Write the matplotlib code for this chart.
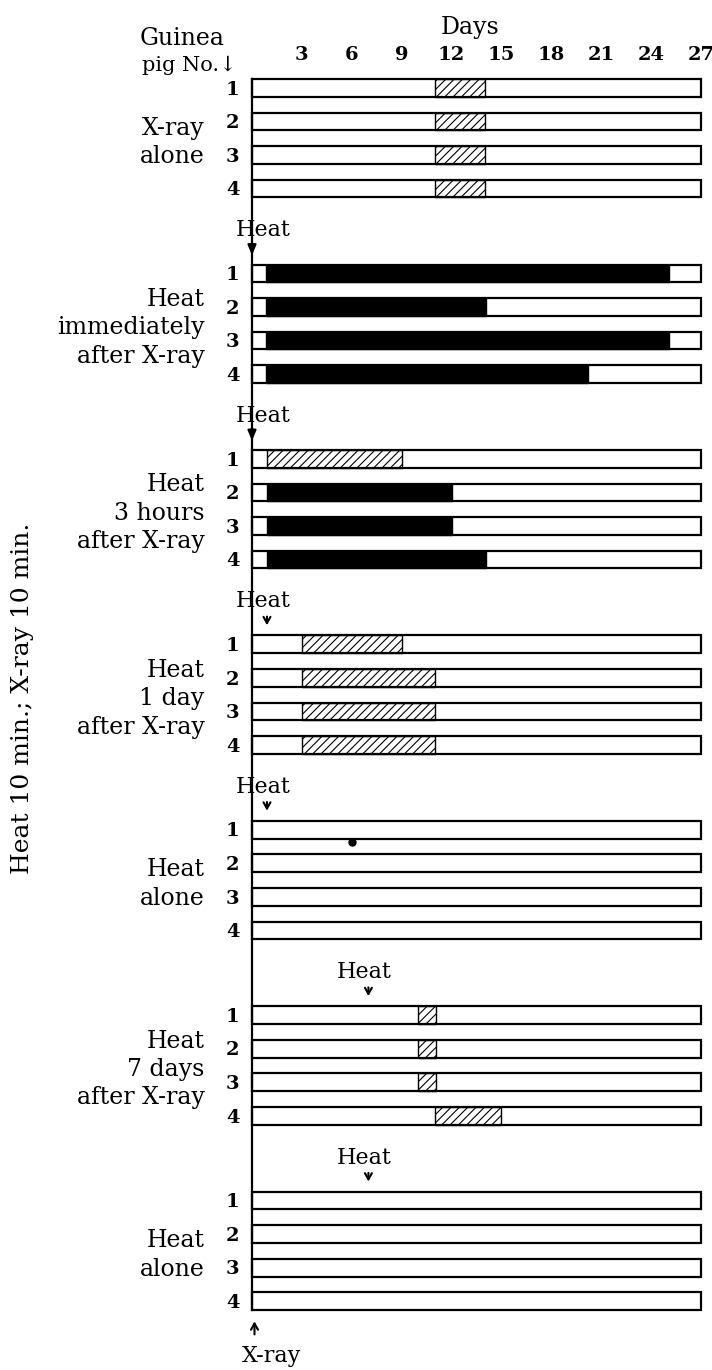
import matplotlib.pyplot as plt

# days after X-ray shown on the top scale
day_ticks = [3, 6, 9, 12, 15, 18, 21, 24, 27]
pig_numbers = ["1", "2", "3", "4"]

group_labels = [
    "X-ray\nalone",
    "Heat\nimmediately\nafter X-ray",
    "Heat\n3 hours\nafter X-ray",
    "Heat\n1 day\nafter X-ray",
    "Heat\nalone",
    "Heat\n7 days\nafter X-ray",
    "Heat\nalone",
]

# day on which heat was given (None = no heat)
heat_day = [None, 0, 0, 0.9, 0.9, 7, 7]

# reaction period of each pig, in days
react_start = [
    [11, 11, 11, 11],
    [0.85, 0.85, 0.85, 0.85],
    [0.9, 0.9, 0.9, 0.9],
    [3, 3, 3, 3],
    [None, None, None, None],
    [10, 10, 10, 11],
    [None, None, None, None],
]
react_end = [
    [14, 14, 14, 14],
    [25.1, 14.05, 25.1, 20.2],
    [9, 12, 12, 14.05],
    [9, 11, 11, 11],
    [None, None, None, None],
    [11.05, 11.05, 11.05, 15],
    [None, None, None, None],
]
react_kind = [
    ["hatch", "hatch", "hatch", "hatch"],
    ["solid", "solid", "solid", "solid"],
    ["hatch", "solid", "solid", "solid"],
    ["hatch", "hatch", "hatch", "hatch"],
    [None, None, None, None],
    ["hatch", "hatch", "hatch", "hatch"],
    [None, None, None, None],
]
total_days = 27

# stray dot below pig 1 of the first "heat alone" group
dot_day = 6
dot_group = 4

# layout (pixels of the 712x1370 picture)
W, H = 712, 1370
X0_PX, PX_DAY = 252, 16.63
Y0_PX, ROW_PX = 88, 33.9
GROUP_STEP = 5.47
ROW_STEP = 0.99
BAR_H = 0.52

FONT = ["DejaVu Serif", "DejaVu Sans"]
plt.rcParams["font.family"] = FONT
plt.rcParams["hatch.linewidth"] = 0.8

fig = plt.figure(figsize=(W / 100, H / 100), dpi=100)
ax = fig.add_axes([0, 0, 1, 1])
ax.set_xlim(-X0_PX / PX_DAY, (W - X0_PX) / PX_DAY)
ax.set_ylim((H - Y0_PX) / ROW_PX, -Y0_PX / ROW_PX)
ax.axis("off")

# header
ax.text(13.1, -1.77, "Days", ha="center", va="center", fontsize=17)
for d in day_ticks:
    ax.text(d, -0.98, str(d), ha="center", va="center", fontsize=14, fontweight="bold")
ax.text(-4.2, -1.47, "Guinea", ha="center", va="center", fontsize=17)
ax.text(-0.9, -0.68, "pig No.\u2193", ha="right", va="center", fontsize=15)

for g, label in enumerate(group_labels):
    base = g * GROUP_STEP
    rows = [base + r * ROW_STEP for r in range(4)]

    for r, y in enumerate(rows):
        s, e, k = react_start[g][r], react_end[g][r], react_kind[g][r]
        if k == "solid":
            ax.barh(y, e - s, left=s, height=BAR_H, color="black",
                    edgecolor="black", lw=1.0)
        elif k == "hatch":
            ax.barh(y, e - s, left=s, height=BAR_H, color="white",
                    edgecolor="black", hatch="////", lw=1.0)
        # outline of the whole observation period
        ax.barh(y, total_days, left=0, height=BAR_H, color="none",
                edgecolor="black", lw=1.6)
        ax.text(-1.15, y + 0.05, pig_numbers[r], ha="center", va="center",
                fontsize=14, fontweight="bold")

    mid = (rows[0] + rows[-1]) / 2 + 0.12
    ax.text(-2.85, mid, label, ha="right", va="center", fontsize=17,
            linespacing=1.3, multialignment="right")

    hd = heat_day[g]
    if hd is not None:
        if hd == 0:
            ax.text(-0.95, base - 1.27, "Heat", ha="left", va="center", fontsize=16)
            ax.annotate("", xy=(0, base - 0.45), xytext=(0, base - 1.0),
                        arrowprops=dict(arrowstyle="-|>,head_length=0.6,head_width=0.25",
                                        lw=1.6, color="black"))
        else:
            ax.text(hd - 0.25, base - 1.27, "Heat", ha="center", va="center", fontsize=16)
            ax.annotate("", xy=(hd, base - 0.48), xytext=(hd, base - 0.9),
                        arrowprops=dict(arrowstyle="->,head_length=0.45,head_width=0.25",
                                        lw=1.5, color="black"))

# continuous day-0 line (X-ray given)
last = (len(group_labels) - 1) * GROUP_STEP + 3 * ROW_STEP
ax.plot([0, 0], [-BAR_H / 2, last + BAR_H / 2], color="black", lw=1.6)

ax.plot(dot_day, dot_group * GROUP_STEP + 0.37, "o", color="black", ms=5)

ax.annotate("", xy=(0.15, 36.3), xytext=(0.15, 36.85),
            arrowprops=dict(arrowstyle="->,head_length=0.45,head_width=0.25",
                            lw=1.5, color="black"))
ax.text(1.2, 37.4, "X-ray", ha="center", va="center", fontsize=16)

ax.text(-13.8, 18.0, "Heat 10 min.; X-ray 10 min.", rotation=90,
        ha="center", va="center", fontsize=18)

fig.savefig("out.png", dpi=100)
